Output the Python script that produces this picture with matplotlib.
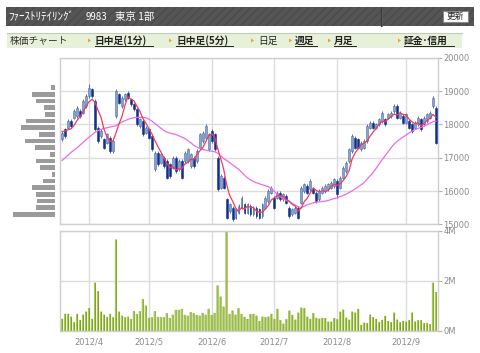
import matplotlib
matplotlib.use("Agg")
import matplotlib.pyplot as plt
import numpy as np
import pandas as pd
from matplotlib.patches import Rectangle, Polygon

plt.rcParams['font.family'] = ['DejaVu Sans']
plt.rcParams['hatch.linewidth'] = 0.8
JP = ['Noto Sans CJK JP', 'DejaVu Sans']

# ---------------- data ----------------
holidays = ['2012-03-20', '2012-04-30', '2012-05-03', '2012-05-04',
            '2012-07-16', '2012-09-17']
dates = pd.bdate_range('2012-03-19', '2012-09-18', freq='C', holidays=holidays)

opens = [17550, 17850, 17900, 18100, 18200, 18250, 18400, 18350, 18550, 18850,
         19050, 18700, 17900, 17650, 17550, 17450, 17600, 17200, 18250, 18900,
         18550, 18750, 18950, 18750, 18600, 18450, 17950, 18100, 17750, 17850,
         17650, 16650, 17150, 16850, 17000, 16900, 16800, 16700, 17000, 16650,
         16900, 16900, 16900, 16750, 17000, 16900, 17300, 17500, 17600, 17250,
         17800, 17700, 17000, 16100, 16400, 15750, 15400, 15500, 15200, 15350,
         15500, 15600, 15350, 15550, 15300, 15500, 15450, 15250, 15500, 15700,
         15950, 15800, 15800, 15950, 15750, 15850, 15500, 15300, 15350, 15500,
         15650, 16000, 16150, 16050, 16050, 15950, 15750, 15950, 16000, 16050,
         16100, 16150, 16300, 16100, 16400, 16600, 16900, 17200, 17600, 17550,
         17250, 17300, 17500, 17900, 18050, 17900, 18000, 18100, 18150, 18200,
         18250, 18400, 18550, 18200, 18250, 18050, 18100, 18000, 17900, 18000,
         18150, 18000, 18100, 18200, 18550, 18500]
closes = [17750, 17650, 18100, 17950, 18400, 18500, 18250, 18700, 18850, 19100,
          18850, 17850, 17500, 17800, 17300, 17700, 17200, 17500, 19000, 18650,
          18800, 18900, 18800, 18600, 18450, 18000, 18150, 17700, 17900, 17600,
          17250, 17150, 16800, 17100, 16750, 16400, 16450, 17000, 16600, 16900,
          16400, 17150, 17250, 17100, 16750, 17200, 17700, 17750, 17950, 17700,
          17500, 17250, 16050, 16450, 16100, 15200, 15600, 15150, 15450, 15550,
          15800, 15350, 15600, 15300, 15500, 15250, 15200, 15600, 15800, 16000,
          16100, 15500, 15950, 15750, 15900, 15650, 15250, 15450, 15500, 15200,
          16100, 16200, 15950, 16300, 15950, 15700, 16000, 16100, 16150, 16200,
          16250, 16350, 15900, 16400, 16700, 16850, 17250, 17650, 17300, 17300,
          17450, 17500, 17950, 18050, 17900, 18000, 18150, 18350, 18000, 18300,
          18350, 18550, 18200, 18350, 18050, 18300, 17900, 17800, 18050, 18200,
          17850, 18200, 18300, 18350, 18800, 17450]
highs = [17800, 17900, 18150, 18150, 18450, 18550, 18450, 18750, 18900, 19200,
         19100, 18750, 17950, 17850, 17600, 17750, 17650, 17550, 19050, 18950,
         18850, 18950, 19000, 18800, 18650, 18500, 18200, 18150, 17950, 17900,
         17700, 17200, 17200, 17150, 17050, 16950, 16850, 17050, 17050, 16950,
         16950, 17200, 17300, 17150, 17050, 17250, 17750, 17800, 18000, 17750,
         17850, 17750, 17050, 16500, 16450, 15800, 15650, 15550, 15500, 15600,
         15850, 15650, 15650, 15600, 15550, 15550, 15500, 15650, 15850, 16050,
         16150, 15850, 16000, 16000, 15950, 15900, 15550, 15500, 15550, 15550,
         16150, 16250, 16200, 16350, 16100, 16000, 16050, 16150, 16200, 16250,
         16300, 16400, 16350, 16450, 16750, 16900, 17300, 17700, 17650, 17600,
         17500, 17550, 18000, 18100, 18100, 18050, 18200, 18400, 18200, 18350,
         18400, 18600, 18600, 18400, 18300, 18350, 18150, 18050, 18100, 18250,
         18200, 18250, 18350, 18400, 18850, 18550]
lows = [17500, 17600, 17850, 17900, 18150, 18200, 18200, 18300, 18500, 18800,
        18800, 17800, 17450, 17600, 17250, 17400, 17150, 17150, 18200, 18600,
        18500, 18700, 18750, 18550, 18400, 17950, 17900, 17650, 17700, 17550,
        17200, 16600, 16750, 16800, 16700, 16350, 16400, 16650, 16550, 16600,
        16350, 16850, 16850, 16700, 16700, 16850, 17250, 17450, 17550, 17200,
        17450, 17200, 16000, 16050, 16050, 15150, 15350, 15100, 15150, 15300,
        15450, 15300, 15300, 15250, 15250, 15200, 15150, 15200, 15450, 15650,
        15900, 15450, 15750, 15700, 15700, 15600, 15200, 15250, 15300, 15150,
        15600, 15950, 15900, 16000, 15900, 15650, 15700, 15900, 15950, 16000,
        16050, 16100, 15800, 16050, 16350, 16550, 16850, 17150, 17250, 17250,
        17200, 17250, 17450, 17850, 17850, 17850, 17950, 18050, 17950, 18150,
        18200, 18350, 18150, 18150, 18000, 18000, 17850, 17750, 17850, 17950,
        17800, 17950, 18050, 18150, 18500, 17400]
# closes of the 4 sessions before the window (read from the start of the red 5-day line)
prior_closes = [17600, 17900, 17800, 17900]
# 25-day moving average (magenta line)
ma25 = [16920, 17000, 17080, 17160, 17230, 17300, 17380, 17460, 17540, 17620,
        17690, 17760, 17810, 17850, 17880, 17900, 17920, 17940, 17960, 18020,
        18070, 18110, 18150, 18180, 18200, 18210, 18210, 18210, 18200, 18160,
        18100, 18030, 17960, 17890, 17820, 17770, 17740, 17720, 17700, 17660,
        17620, 17580, 17520, 17450, 17380, 17320, 17280, 17250, 17230, 17210,
        17200, 17180, 17140, 17060, 16980, 16920, 16860, 16790, 16720, 16660,
        16570, 16480, 16400, 16340, 16290, 16250, 16220, 16190, 16160, 16130,
        16080, 15990, 15900, 15830, 15770, 15720, 15680, 15630, 15580, 15530,
        15500, 15550, 15590, 15620, 15650, 15670, 15680, 15690, 15700, 15720,
        15750, 15780, 15800, 15840, 15870, 15910, 15960, 16010, 16070, 16130,
        16190, 16260, 16360, 16460, 16560, 16680, 16810, 16940, 17060, 17180,
        17300, 17410, 17490, 17560, 17620, 17680, 17740, 17800, 17840, 17880,
        17910, 17950, 17990, 18040, 18080, 18100]
# daily volume, millions of shares
volume_m = [0.48, 0.68, 0.68, 0.57, 0.35, 0.68, 0.44, 0.65, 0.77, 0.91,
            0.48, 1.92, 1.59, 0.77, 0.65, 0.55, 0.68, 0.55, 3.64, 0.77,
            0.61, 0.55, 0.57, 0.48, 0.79, 0.68, 0.79, 1.27, 1.01, 0.52,
            0.55, 0.79, 0.55, 0.55, 0.55, 0.71, 0.52, 0.65, 0.84, 0.84,
            0.88, 0.64, 0.61, 0.75, 0.71, 0.64, 0.61, 0.72, 0.65, 0.88,
            0.64, 0.72, 1.81, 1.37, 0.97, 4.60, 0.68, 0.81, 0.65, 0.91,
            0.68, 0.56, 0.48, 0.68, 0.68, 0.61, 0.40, 0.57, 0.55, 0.57,
            0.68, 0.48, 0.88, 0.43, 0.29, 0.47, 0.81, 0.64, 0.45, 0.73,
            0.93, 0.91, 0.57, 0.48, 0.71, 0.52, 0.49, 0.52, 0.52, 0.37,
            0.37, 0.52, 0.47, 0.77, 0.85, 0.53, 0.45, 0.77, 0.73, 0.88,
            0.24, 0.33, 0.31, 0.65, 0.55, 0.48, 0.35, 0.44, 0.60, 0.40,
            0.35, 0.73, 0.45, 0.35, 0.40, 0.37, 0.43, 0.73, 0.37, 0.43,
            0.43, 0.32, 0.32, 0.27, 1.92, 1.55]
# volume-at-price profile (price band centre, relative volume)
profile_prices = [15300, 15500, 15700, 15900, 16100, 16300, 16500, 16700, 16900, 17100,
                  17300, 17500, 17700, 17900, 18100, 18300, 18500, 18700, 18900, 19100]
profile_volume = [41.7, 19.0, 17.7, 19.0, 22.7, 11.7, 3.0, 15.0, 19.0, 5.3,
                  19.7, 30.3, 15.7, 34.3, 29.3, 10.0, 11.0, 19.0, 22.7, 4.0]
price_ticks = [15000, 16000, 17000, 18000, 19000, 20000]
volume_ticks = [0, 2, 4]
volume_tick_labels = ['0M', '2M', '4M']

title_name = 'ﾌｧｰｽﾄﾘﾃｲﾘﾝｸﾞ'
title_code = '9983'
title_market = '東京 1部'
nav_items = ['日中足(1分)', '日中足(5分)', '日足', '週足', '月足', '証金･信用']

# ---------------- figure ----------------
W, H = 480, 353
fig = plt.figure(figsize=(W / 100, H / 100), dpi=100)


def px_rect(x0, y0, x1, y1):
    return [x0 / W, 1 - y1 / H, (x1 - x0) / W, (y1 - y0) / H]


bg = fig.add_axes([0, 0, 1, 1])
bg.set_xlim(0, W)
bg.set_ylim(H, 0)
bg.axis('off')

# header bar
bg.add_patch(Rectangle((6, 6.5), 468, 19, facecolor='#555555', edgecolor='#494949',
                       hatch='////', lw=0))
bg.plot([380.5, 380.5], [6.5, 25.5], color='#3a3a3a', lw=0.8)
bg.plot([381.5, 381.5], [6.5, 25.5], color='#5e5e5e', lw=0.6)
bg.text(8.5, 16.5, title_name, color='white', fontsize=8, family=JP, va='center')
bg.text(86, 16.5, title_code, color='white', fontsize=7, family=JP, va='center')
bg.text(115, 16.5, title_market, color='white', fontsize=7.5, family=JP, va='center')
bg.add_patch(Rectangle((443, 11), 25, 11, facecolor='white', edgecolor='#8a8a8a', lw=0.8))
bg.text(455.5, 16.8, '更新', color='#222222', fontsize=6.3, family=JP,
        ha='center', va='center')

# navigation band
bg.add_patch(Rectangle((7, 33), 455, 15, facecolor='#e7f0d9', lw=0))
bg.plot([7, 462], [33.2, 33.2], color='#c3cbb8', lw=0.8)
bg.text(10, 41, '株価チャート', color='#333333', fontsize=7, family=JP, va='center')
nav_x = [95, 176, 258, 295, 334, 404]
nav_w = [58, 57, 0, 22, 22, 50]
marker_x = [88, 169, 251, 289, 328, 398]
for label, nx, nw, mx in zip(nav_items, nav_x, nav_w, marker_x):
    bold = nw > 0
    bg.text(nx, 41, label, color='#222222', fontsize=7, family=JP, va='center',
            fontweight='bold' if bold else 'normal')
    if bold:
        bg.plot([nx, nx + nw], [46.3, 46.3], color='#222222', lw=0.7)
    bg.add_patch(Polygon([[mx, 38.5], [mx, 42.5], [mx + 3, 40.5]], closed=True,
                         facecolor='#f0a030', lw=0))

# ---------------- price panel ----------------
x = np.arange(len(closes))
month_idx = [i for i in range(1, len(dates)) if dates[i].month != dates[i - 1].month]
month_labels = [f'{dates[i].year}/{dates[i].month}' for i in month_idx]

grid_c = '#dcdcdc'
spine_c = '#cfcfcf'
label_c = '#8a8a8a'

ax = fig.add_axes(px_rect(60, 57.7, 438, 224.5))
ax.set_xlim(-0.7, 125.7)
ax.set_ylim(15000, 20000)
ax.set_yticks(price_ticks)
ax.set_yticklabels([str(t) for t in price_ticks])
ax.yaxis.tick_right()
ax.tick_params(axis='y', length=3, width=0.8, color='#b0b0b0', labelsize=6,
               labelcolor=label_c, pad=1)
ax.set_xticks(month_idx)
ax.set_xticklabels([])
ax.tick_params(axis='x', length=0)
ax.grid(True, color=grid_c, lw=1)
ax.set_axisbelow(True)
for s in ax.spines.values():
    s.set_color(spine_c)
    s.set_linewidth(1)

o = np.array(opens, float)
c = np.array(closes, float)
up = c >= o
body_lo = np.minimum(o, c)
body_h = np.maximum(np.abs(c - o), 20)
ax.vlines(x, lows, highs, color='#3d5c9c', lw=0.6, zorder=2)
ax.bar(x[up], body_h[up], bottom=body_lo[up], width=0.64, color='#8aa3cb',
       edgecolor='#4d6fae', lw=0.4, zorder=3)
ax.bar(x[~up], body_h[~up], bottom=body_lo[~up], width=0.64, color='#13308c',
       edgecolor='#13308c', lw=0.4, zorder=3)

ma5 = pd.Series(prior_closes + closes).rolling(5).mean().values[len(prior_closes):]
ax.plot(x, ma25, color='#e86cf0', lw=0.9, zorder=4)
ax.plot(x, ma5, color='#f03c5a', lw=0.9, zorder=5)

# ---------------- volume panel ----------------
axv = fig.add_axes(px_rect(60, 230.5, 438, 331))
axv.set_xlim(-0.7, 125.7)
axv.set_ylim(0, 4)
axv.set_yticks(volume_ticks)
axv.set_yticklabels(volume_tick_labels)
axv.yaxis.tick_right()
axv.tick_params(axis='y', length=3, width=0.8, color='#b0b0b0', labelsize=6,
                labelcolor=label_c, pad=1)
axv.set_xticks(month_idx)
axv.set_xticklabels(month_labels)
axv.tick_params(axis='x', length=0, labelsize=6, labelcolor=label_c, pad=5)
axv.grid(True, color=grid_c, lw=1)
axv.set_axisbelow(True)
for s in axv.spines.values():
    s.set_color(spine_c)
    s.set_linewidth(1)
vol = np.array(volume_m)
main_bars = axv.bar(x, vol, width=0.68, color='#7ea71f', lw=0, zorder=2)
hi_bars = axv.bar(x - 0.14, vol, width=0.24, color='#b7d66c', lw=0, zorder=3)
for b in list(main_bars) + list(hi_bars):
    b.set_snap(False)

# ---------------- volume-at-price profile ----------------
axp = fig.add_axes(px_rect(0, 57.7, 55, 224.5))
axp.set_ylim(15000, 20000)
axp.set_xlim(55, 0)
axp.barh(profile_prices, profile_volume, height=140, color='#9b9b9b', lw=0)
axp.axis('off')

fig.savefig('out.png', dpi=100)
